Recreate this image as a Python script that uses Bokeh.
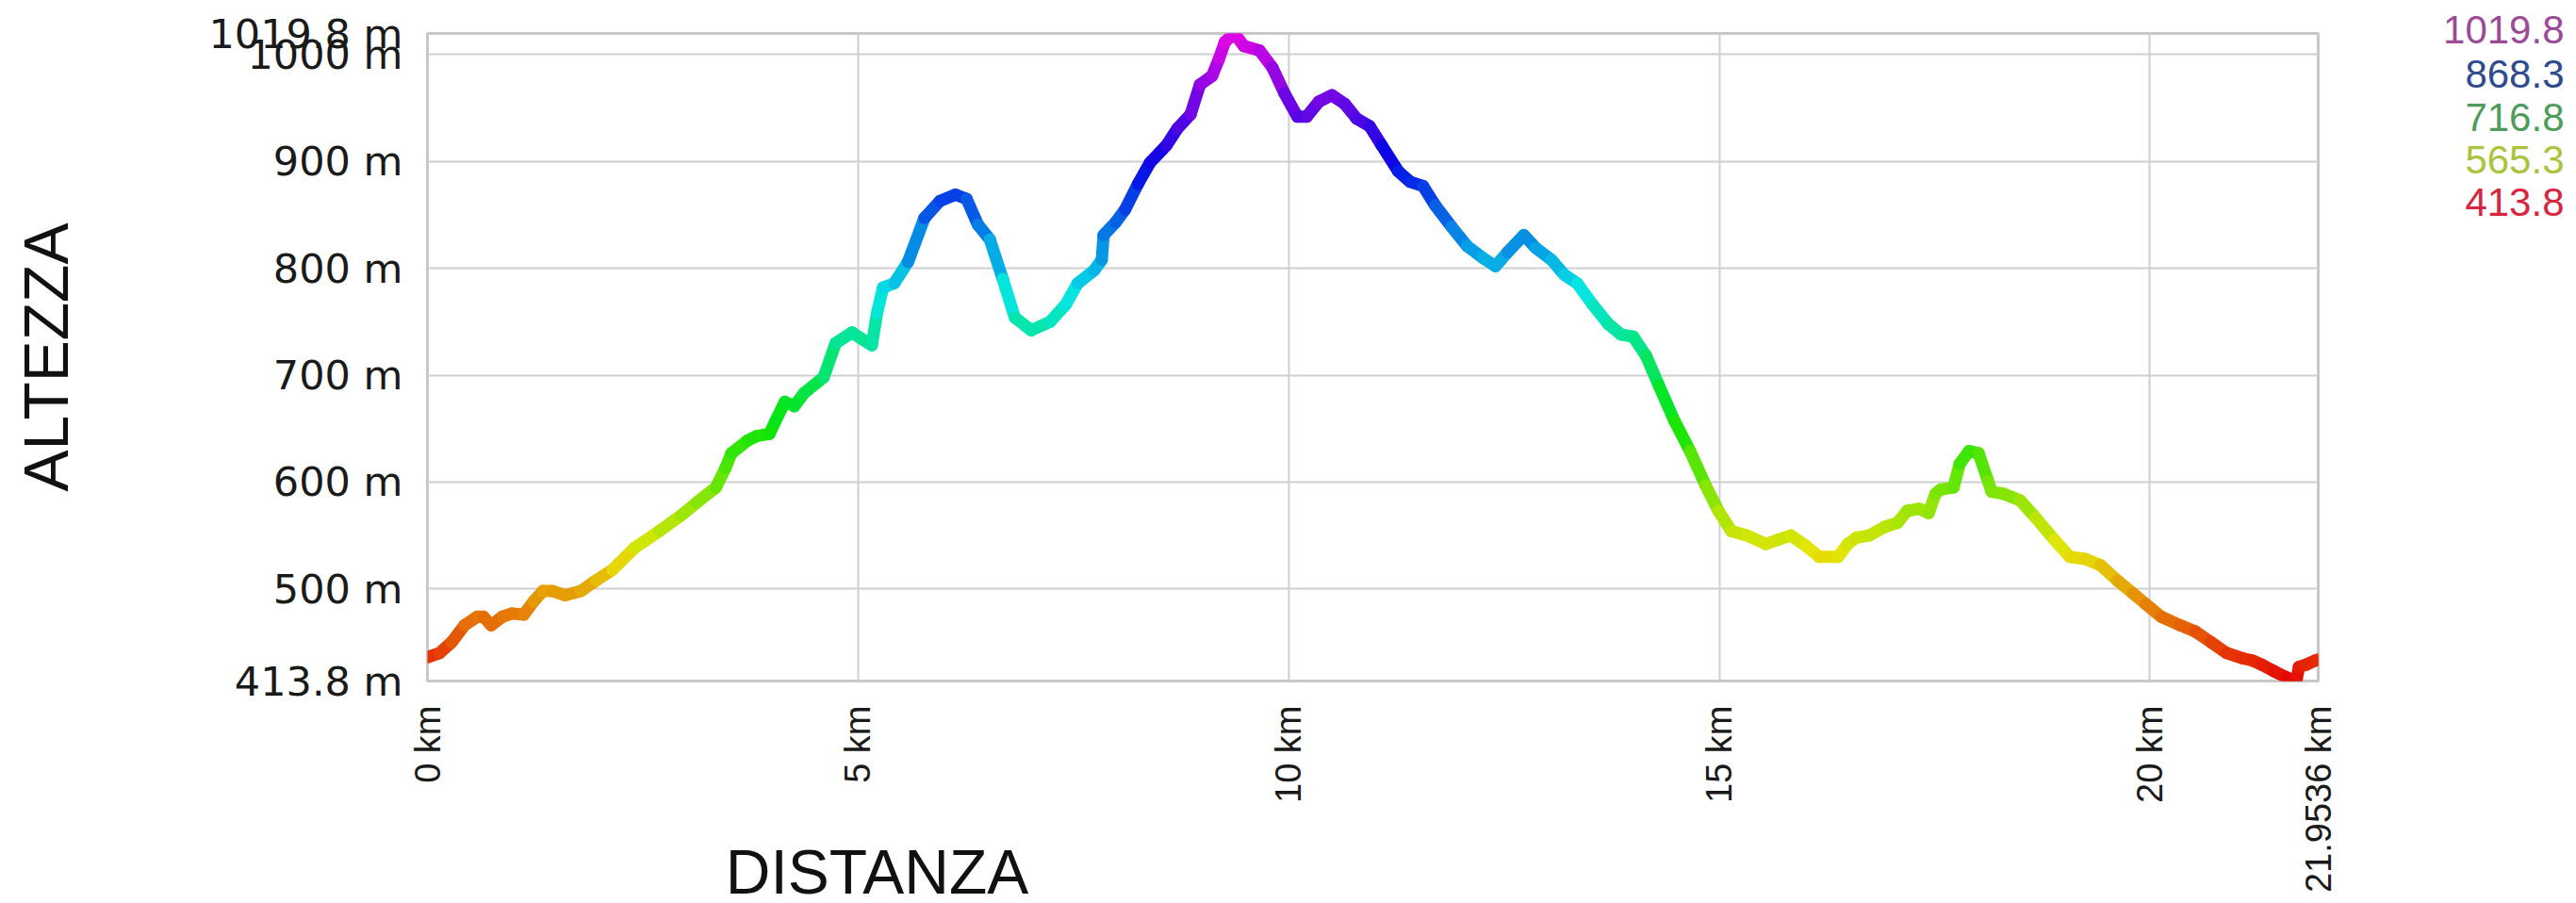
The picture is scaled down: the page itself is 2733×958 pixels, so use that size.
import math
import colorsys
from bokeh.plotting import figure
from bokeh.layouts import column, row
from bokeh.models import Range1d, FixedTicker, CustomJSTickFormatter, ColumnDataSource
from bokeh.core.properties import value
from bokeh.embed import file_html
from bokeh.resources import INLINE

# ---- data ----
dist_km = [0, 0.14, 0.28, 0.43, 0.58, 0.65, 0.74, 0.87, 0.98, 1.12, 1.23, 1.34, 1.45, 1.60, 1.78,
           1.96, 2.15, 2.40, 2.69, 2.95, 3.13, 3.35, 3.46, 3.53, 3.72, 3.82, 3.97, 4.04, 4.15, 4.26,
           4.37, 4.60, 4.74, 4.93, 5.04, 5.16, 5.22, 5.29, 5.42, 5.58, 5.77, 5.95, 6.13, 6.26, 6.39,
           6.53, 6.68, 6.82, 7.01, 7.23, 7.41, 7.55, 7.74, 7.83, 7.85, 7.99, 8.10, 8.25, 8.39, 8.58,
           8.71, 8.86, 8.97, 9.11, 9.19, 9.26, 9.37, 9.48, 9.66, 9.81, 9.95, 10.10, 10.21, 10.35, 10.50,
           10.65, 10.79, 10.94, 11.08, 11.27, 11.41, 11.56, 11.70, 11.89, 12.07, 12.25, 12.40, 12.54, 12.73, 12.87,
           13.05, 13.20, 13.35, 13.53, 13.71, 13.86, 14.00, 14.15, 14.30, 14.48, 14.66, 14.84, 14.99, 15.14, 15.32,
           15.54, 15.68, 15.83, 16.01, 16.16, 16.38, 16.49, 16.59, 16.74, 16.92, 17.07, 17.18, 17.32, 17.43, 17.51,
           17.57, 17.72, 17.79, 17.90, 18.01, 18.12, 18.16, 18.30, 18.49, 18.67, 18.89, 19.07, 19.25, 19.43, 19.62,
           19.80, 19.95, 20.13, 20.35, 20.53, 20.71, 20.89, 21.08, 21.19, 21.30, 21.44, 21.59, 21.70, 21.73, 21.81,
           21.92, 21.9536]

elev_m = [436, 440, 450, 466, 474, 474, 466, 474, 477, 476, 488, 498, 498, 494, 498,
          508, 518, 538, 554, 569, 581, 595, 613, 627, 639, 643, 645, 657, 675, 671,
          683, 698, 730, 740, 734, 728, 758, 782, 786, 806, 847, 863, 869, 865, 841,
          827, 790, 754, 742, 750, 766, 786, 798, 808, 831, 843, 855, 879, 899, 915,
          931, 944, 972, 980, 996, 1012, 1019.8, 1008, 1004, 988, 964, 942, 942, 956, 962,
          954, 940, 933, 915, 891, 881, 877, 859, 839, 821, 810, 802, 815, 831, 819,
          808, 794, 786, 766, 748, 738, 736, 718, 690, 657, 629, 597, 573, 554, 550,
          542, 546, 550, 540, 530, 530, 542, 548, 550, 558, 562, 573, 575, 571, 589,
          593, 595, 617, 629, 627, 601, 591, 589, 583, 567, 546, 530, 528, 522, 508,
          496, 486, 474, 466, 460, 450, 440, 435, 433, 429, 423, 417, 413.8, 427, 429,
          433, 434]

x_ticks = [0, 5, 10, 15, 20, 21.9536]
y_ticks = [413.8, 500, 600, 700, 800, 900, 1000, 1019.8]

legend_values = ["1019.8", "868.3", "716.8", "565.3", "413.8"]
legend_colors = ["#9c4a98", "#2e4b8e", "#4e9c5c", "#a9c53b", "#d7263d"]

x_label = "DISTANZA"
y_label = "ALTEZZA"

# ---- layout sizes (pixels) ----
H = 950
W_MAIN = 2489
W_LEG, H_LEG = 236, 260
XL_W, XL_H = 420, 90

xmin, xmax = 0, max(dist_km)
ymin, ymax = min(elev_m), max(elev_m)

p = figure(width=W_MAIN, height=H, output_backend="svg", toolbar_location=None,
           x_range=Range1d(xmin, xmax), y_range=Range1d(ymin, ymax),
           min_border_left=453, min_border_right=30, min_border_top=35, min_border_bottom=225)
p.background_fill_color = "white"
p.border_fill_color = "white"
p.outline_line_color = "#c8c8c8"
p.outline_line_width = 3


def elev_color(e):
    t = (e - ymin) / (ymax - ymin)
    r, g, b = colorsys.hsv_to_rgb(t * 300.0 / 360.0, 0.97, 0.9)
    return "#%02x%02x%02x" % (int(r * 255), int(g * 255), int(b * 255))


x0 = dist_km[:-1]
x1 = dist_km[1:]
y0 = elev_m[:-1]
y1 = elev_m[1:]
cols = [elev_color((a + b) / 2.0) for a, b in zip(y0, y1)]
src = ColumnDataSource(dict(x0=x0, x1=x1, y0=y0, y1=y1, c=cols))
p.segment(x0="x0", y0="y0", x1="x1", y1="y1", line_color="c", line_width=13,
          line_cap="round", source=src)

p.xaxis.ticker = FixedTicker(ticks=x_ticks)
p.yaxis.ticker = FixedTicker(ticks=y_ticks)
p.xaxis.formatter = CustomJSTickFormatter(code="return tick + ' km';")
p.yaxis.formatter = CustomJSTickFormatter(code="return (Math.round(tick*10)/10) + ' m';")
for ax in (p.xaxis, p.yaxis):
    ax.axis_line_color = None
    ax.major_tick_line_color = None
    ax.minor_tick_line_color = None
    ax.major_label_text_color = "#1a1a1a"
    ax.major_label_standoff = 20

p.xaxis.major_label_orientation = math.pi / 2
p.xaxis.major_label_text_font = "Liberation Sans"
p.xaxis.major_label_text_font_size = "38px"
p.yaxis.major_label_text_font = "DejaVu Sans"
p.yaxis.major_label_text_font_size = "43px"

p.yaxis.axis_label = y_label
p.yaxis.axis_label_text_font = "Liberation Sans"
p.yaxis.axis_label_text_font_style = "normal"
p.yaxis.axis_label_text_font_size = "66px"
p.yaxis.axis_label_text_color = "#111111"
p.yaxis.axis_label_standoff = 132

p.xgrid.grid_line_color = "#cfcfcf"
p.ygrid.grid_line_color = "#cfcfcf"
p.xgrid.grid_line_width = 2
p.ygrid.grid_line_width = 2

# ---- x axis title, overlaid below the tick labels ----
xl_top = 924 - XL_H // 2
xl = figure(width=XL_W, height=XL_H, output_backend="svg", toolbar_location=None,
            x_range=Range1d(0, 1), y_range=Range1d(0, 1),
            x_axis_type=None, y_axis_type=None, min_border=0)
xl.outline_line_color = None
xl.background_fill_alpha = 0
xl.border_fill_alpha = 0
xl.text(x=[0.5], y=[0.5], text=[x_label], text_align="center", text_baseline="middle",
        text_font=value("Liberation Sans"), text_font_size="66px", text_color="#111111")
xl_box = column(xl, margin=(xl_top - H, 0, H - (xl_top + XL_H), 930 - XL_W // 2))

# ---- colour legend of elevations (top right), overlaid ----
leg = figure(width=W_LEG, height=H_LEG, output_backend="svg", toolbar_location=None,
             x_range=Range1d(0, W_LEG), y_range=Range1d(H_LEG, 0),
             x_axis_type=None, y_axis_type=None, min_border=0)
leg.outline_line_color = None
leg.background_fill_alpha = 0
leg.border_fill_alpha = 0
leg_y = [31, 78, 124, 169, 214]
leg_src = ColumnDataSource(dict(x=[W_LEG - 5] * len(legend_values), y=leg_y,
                                t=legend_values, c=legend_colors))
leg.text(x="x", y="y", text="t", text_color="c", source=leg_src,
         text_align="right", text_baseline="middle",
         text_font=value("Liberation Sans"), text_font_size="42px")
leg_box = column(leg, margin=(-H, 0, H - H_LEG, W_MAIN))

layout = column(row(p), xl_box, leg_box)
open("out.html", "w").write(file_html(layout, INLINE))
